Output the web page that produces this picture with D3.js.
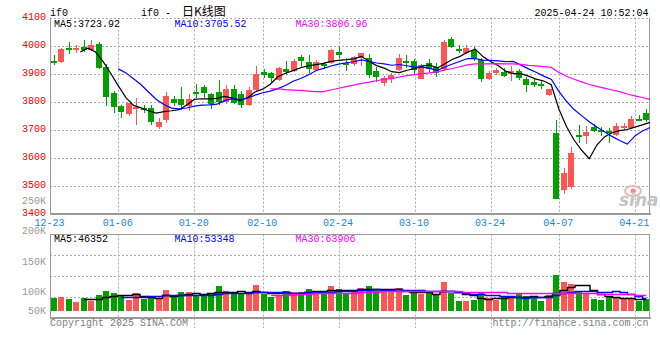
<!DOCTYPE html>
<html><head><meta charset="utf-8">
<script src="https://cdn.jsdelivr.net/npm/d3@7"></script>
<style>
body{margin:0;background:#fff}
svg{display:block}
text{font-family:"Liberation Mono","DejaVu Sans Mono",monospace;font-size:10px}
</style>
</head><body>
<svg id="c" width="660" height="360"></svg>
<script>
// ---------- DATA ----------
const dates = ["12-23","12-24","12-25","12-26","12-27","12-30","12-31","01-02","01-03","01-06",
"01-07","01-08","01-09","01-10","01-13","01-14","01-15","01-16","01-17","01-20",
"01-21","01-22","01-23","01-24","01-27","02-05","02-06","02-07","02-10","02-11",
"02-12","02-13","02-14","02-17","02-18","02-19","02-20","02-21","02-24","02-25",
"02-26","02-27","02-28","03-03","03-04","03-05","03-06","03-07","03-10","03-11",
"03-12","03-13","03-14","03-17","03-18","03-19","03-20","03-21","03-24","03-25",
"03-26","03-27","03-28","03-31","04-01","04-02","04-03","04-07","04-08","04-09",
"04-10","04-11","04-14","04-15","04-16","04-17","04-18","04-21","04-22","04-23"];
const opens = [3944,3940,3992,3983,3996,3986,4007,3923,3830,3784,
3755,3777,3776,3779,3708,3733,3808,3811,3784,3833,
3853,3826,3834,3798,3847,3828,3788,3841,3906,3904,
3879,3918,3909,3961,3942,3912,3935,3937,3977,3937,
3933,3955,3955,3908,3868,3880,3913,3945,3945,3882,
3939,3923,3916,4024,3987,3975,3985,3949,3882,3904,
3906,3900,3910,3880,3869,3862,3824,3687,3483,3497,
3681,3677,3710,3698,3695,3681,3705,3707,3737,3761];
const highs = [3965,3992,4013,4004,4021,4019,4014,3935,3838,3790,
3796,3812,3790,3788,3740,3835,3820,3852,3826,3865,
3861,3832,3877,3861,3861,3838,3852,3929,3915,3906,
3925,3944,3953,3968,3968,3950,3942,3989,3998,3955,
3963,3975,3970,3925,3892,3904,3970,3967,3951,3933,
3951,3937,4020,4030,4002,4002,3994,3955,3911,3919,
3921,3927,3915,3888,3880,3874,3846,3733,3562,3638,
3716,3713,3719,3710,3705,3723,3723,3749,3751,3775];
const lows = [3930,3937,3970,3974,3977,3982,3917,3784,3758,3741,
3749,3718,3760,3716,3701,3725,3784,3769,3766,3814,
3814,3775,3790,3792,3792,3776,3785,3838,3883,3871,
3875,3894,3905,3921,3903,3909,3917,3935,3956,3911,
3927,3927,3886,3872,3856,3868,3911,3921,3895,3880,
3907,3887,3911,3990,3973,3970,3947,3872,3877,3894,
3889,3874,3877,3835,3852,3846,3820,3451,3469,3487,
3654,3648,3693,3677,3654,3677,3695,3705,3731,3727];
const closes = [3938,3989,3987,3993,3983,4004,3919,3816,3781,3763,
3794,3780,3771,3727,3726,3820,3794,3790,3811,3826,
3832,3792,3798,3847,3796,3788,3843,3900,3897,3883,
3922,3907,3947,3947,3918,3942,3929,3983,3966,3930,
3958,3973,3896,3887,3885,3895,3956,3939,3913,3931,
3916,3904,4014,3994,3982,3993,3955,3882,3904,3912,
3892,3910,3883,3860,3858,3858,3844,3451,3547,3616,
3675,3693,3695,3693,3689,3713,3713,3737,3733,3735];
const volumes = [51500,55600,47400,35200,51500,40700,63700,79900,71800,63700,
42000,71800,47400,54200,52800,84000,54200,75900,75900,62300,
62300,71800,100300,79900,67800,67800,67800,104300,67800,55600,
63700,79900,75900,75900,88100,79900,67800,100300,88100,71800,
84000,92100,100300,88100,75900,79900,92100,63700,71800,67800,
75900,67800,116500,71800,39300,39300,43400,71800,51500,43400,
55600,55600,67800,59600,59600,39300,63700,142300,116500,108400,
79900,67800,47400,43400,59600,51500,47400,47400,39300,47400];
const priceTicks = [4100,4000,3900,3800,3700,3600,3500,3400];
const volTickLabels = ["250K","200K","150K","100K","50K"];
const dateTicks = ["12-23","01-06","01-20","02-10","02-24","03-10","03-24","04-07","04-21"];
const maPeriods = [5,10,30];
const maColors = ["#000000","#0000ff","#ff00ff"];
const priceMaLabels = ["MA5:3723.92","MA10:3705.52","MA30:3806.96"];
const volMaLabels = ["MA5:46352","MA10:53348","MA30:63906"];
const symbol = "if0";
const titleText = "日K线图";
const stamp = "2025-04-24 10:52:04";
const copyright = "Copyright 2025 SINA.COM";
const url = "http://finance.sina.com.cn";

// ---------- LAYOUT ----------
const L = 50, R = 650;
const mainTop = 17.7, mainBot = 213.7;
const volTop = 234.5, volBot = 318, volBase = 311;
const RED = "#ff5555", GREEN = "#00a000", GRID = "#aaaaaa", BORDER = "#999999";

const svg = d3.select("#c");
const idx = d3.range(dates.length);
const x = d3.scaleBand().domain(idx).range([L, R]).padding(0);
const xp = d3.scalePoint().domain(idx).range([L, R]);
const yP = d3.scaleLinear().domain([3400, 4100]).range([mainBot, mainTop]);
const yV = d3.scaleLinear().domain([0, 304000]).range([volBase, volTop]);
const vLab = d3.scalePoint().domain(volTickLabels).range([200.3, 322.3]);

function ma(arr, n) {
  return arr.map((_, i) => i < n - 1 ? null : d3.mean(arr.slice(i - n + 1, i + 1)));
}
const crisp = v => Math.round(v) + 0.5;
const up = i => closes[i] >= opens[i];

// ---------- GRID ----------
const g = svg.append("g");
priceTicks.filter(t => t !== 3400).forEach(t => {
  g.append("line").attr("x1", L).attr("x2", R).attr("y1", crisp(yP(t))).attr("y2", crisp(yP(t)))
   .attr("stroke", GRID).attr("stroke-dasharray", "2,2");
});
dateTicks.slice(1).forEach(d => {
  const xx = crisp(xp(dates.indexOf(d)));
  g.append("line").attr("x1", xx).attr("x2", xx).attr("y1", mainTop).attr("y2", mainBot)
   .attr("stroke", GRID).attr("stroke-dasharray", "2,2");
  g.append("line").attr("x1", xx).attr("x2", xx).attr("y1", volTop).attr("y2", volBot + 10)
   .attr("stroke", GRID).attr("stroke-dasharray", "2,2");
});
d3.range(1, 4).forEach(k => {
  const yy = crisp(volTop + (volBot - volTop) * k / 4);
  g.append("line").attr("x1", L).attr("x2", R).attr("y1", yy).attr("y2", yy)
   .attr("stroke", GRID).attr("stroke-dasharray", "2,2");
});

// ---------- BORDERS ----------
g.append("line").attr("x1", 50.5).attr("x2", 50.5).attr("y1", mainTop).attr("y2", mainBot).attr("stroke", BORDER);
g.append("line").attr("x1", 649.5).attr("x2", 649.5).attr("y1", mainTop).attr("y2", mainBot).attr("stroke", BORDER);
g.append("line").attr("x1", L).attr("x2", R + 1).attr("y1", 214).attr("y2", 214).attr("stroke", BORDER).attr("stroke-width", 2);
g.append("line").attr("x1", L).attr("x2", R).attr("y1", volTop).attr("y2", volTop).attr("stroke", BORDER);
g.append("line").attr("x1", 50.5).attr("x2", 50.5).attr("y1", volTop).attr("y2", volBot).attr("stroke", BORDER);
g.append("line").attr("x1", 649.5).attr("x2", 649.5).attr("y1", volTop).attr("y2", volBot).attr("stroke", BORDER);
g.append("line").attr("x1", L).attr("x2", R + 1).attr("y1", volBot).attr("y2", volBot).attr("stroke", BORDER).attr("stroke-width", 2);

// ---------- SINA LOGO ----------
const logo = svg.append("g");
logo.append("ellipse").attr("cx", 633).attr("cy", 191).attr("rx", 8).attr("ry", 5)
  .attr("fill", "none").attr("stroke", "#f2b4b4").attr("stroke-width", 2);
logo.append("circle").attr("cx", 633).attr("cy", 191).attr("r", 2.5).attr("fill", "#f08a8a");
logo.append("text").attr("x", 619).attr("y", 206).text("sina")
  .style("font-family", "DejaVu Sans").style("font-size", "17px").style("font-style", "italic")
  .style("font-weight", "bold").attr("fill", "#c4c4c4");

// ---------- CANDLES ----------
const bw = 6;
const cg = svg.append("g");
idx.forEach(i => {
  const c = x(i) + x.bandwidth() / 2;
  const x0 = Math.round(c - bw / 2);
  const col = up(i) ? RED : GREEN;
  cg.append("line").attr("x1", x0 + 3.5).attr("x2", x0 + 3.5)
    .attr("y1", Math.round(yP(highs[i]))).attr("y2", Math.round(yP(lows[i])))
    .attr("stroke", col).attr("stroke-width", 1);
  const top = Math.round(yP(Math.max(opens[i], closes[i])));
  const bot = Math.round(yP(Math.min(opens[i], closes[i])));
  cg.append("rect").attr("x", x0).attr("y", top).attr("width", bw)
    .attr("height", Math.max(2, bot - top)).attr("fill", col);
});

// ---------- PRICE MA ----------
maPeriods.forEach((n, k) => {
  const m = ma(closes, n);
  svg.append("path").datum(idx)
    .attr("d", d3.line().defined(i => m[i] != null).x(i => xp(i)).y(i => yP(m[i])))
    .attr("fill", "none").attr("stroke", maColors[k]).attr("stroke-width", 1.2);
});

// ---------- VOLUME ----------
const vg = svg.append("g");
idx.forEach(i => {
  const c = x(i) + x.bandwidth() / 2;
  const x0 = Math.round(c - bw / 2);
  const t = Math.round(yV(volumes[i]));
  vg.append("rect").attr("x", x0).attr("y", t).attr("width", bw)
    .attr("height", volBase - t).attr("fill", up(i) ? RED : GREEN);
});
maPeriods.forEach((n, k) => {
  const m = ma(volumes, n);
  svg.append("path").datum(idx)
    .attr("d", d3.line().curve(d3.curveStep).defined(i => m[i] != null)
      .x(i => x(i) + x.bandwidth() / 2).y(i => Math.round(yV(m[i])) + 0.5))
    .attr("fill", "none").attr("stroke", maColors[k]).attr("stroke-width", 1.4);
});

// ---------- TEXT ----------
const t = svg.append("g");
priceTicks.forEach(v => {
  t.append("text").attr("x", 46).attr("y", yP(v) + 2.3).attr("text-anchor", "end")
   .attr("fill", "#ee0000").text(v);
});
volTickLabels.forEach(l => {
  t.append("text").attr("x", 46).attr("y", Math.min(vLab(l), 310) + 3.6).attr("text-anchor", "end")
   .attr("fill", "#999999").text(l);
});
dateTicks.forEach(d => {
  t.append("text").attr("x", xp(dates.indexOf(d)) - 0.5).attr("y", 226).attr("text-anchor", "middle")
   .attr("fill", "#1a86d6").text(d);
});
const mx = [54, 174.5, 295.5];
priceMaLabels.forEach((s, k) => t.append("text").attr("x", mx[k]).attr("y", 27).attr("fill", maColors[k]).text(s));
volMaLabels.forEach((s, k) => t.append("text").attr("x", mx[k]).attr("y", 242).attr("fill", maColors[k]).text(s));

t.append("text").attr("x", 50).attr("y", 15.5).attr("fill", "#000").text(symbol);
const tt = t.append("text").attr("x", 141).attr("y", 15.5).attr("fill", "#000");
tt.append("tspan").text(symbol + " - ");
tt.append("tspan").attr("dx", 5).style("font-family", "'Noto Sans CJK SC'").style("font-size", "12px").text(titleText);
t.append("text").attr("x", 648.5).attr("y", 15.5).attr("text-anchor", "end").attr("fill", "#000").text(stamp);
t.append("text").attr("x", 50).attr("y", 326).attr("fill", "#808080").text(copyright);
t.append("text").attr("x", 648.5).attr("y", 326).attr("text-anchor", "end").attr("fill", "#808080").text(url);
</script>
</body></html>
